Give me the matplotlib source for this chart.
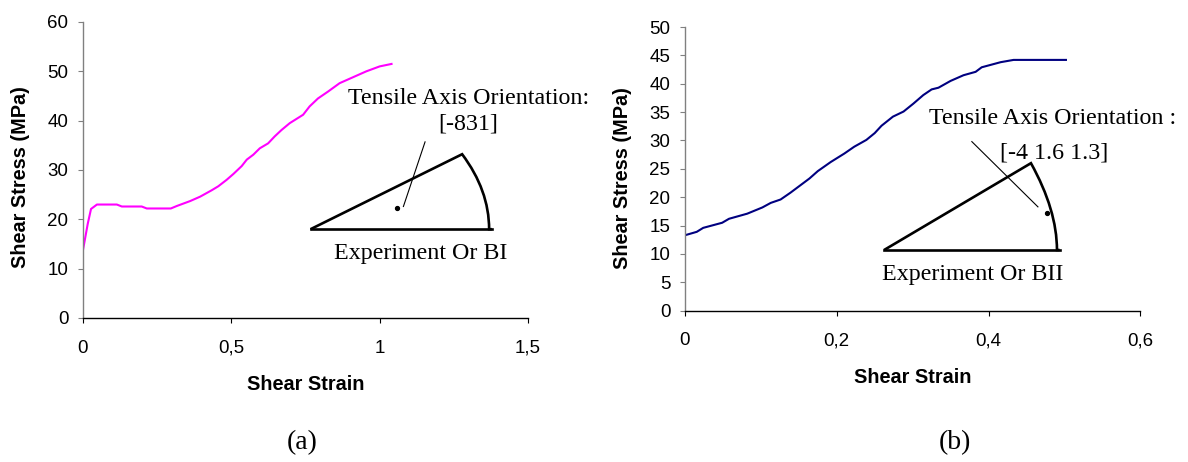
import matplotlib
matplotlib.use("Agg")
import matplotlib.pyplot as plt
from matplotlib.path import Path
from matplotlib.patches import PathPatch

SANS = "Liberation Sans"
SERIF = "Liberation Serif"

# panel (a): shear stress vs shear strain, orientation [-831]
strain_a = [0, 0.016, 0.027, 0.047, 0.114, 0.131, 0.198, 0.215, 0.296, 0.316,
            0.361, 0.395, 0.434, 0.456, 0.484, 0.507, 0.535, 0.552, 0.574, 0.596,
            0.624, 0.646, 0.669, 0.697, 0.742, 0.764, 0.792, 0.826, 0.865, 0.910,
            0.955, 1.0, 1.04]
stress_a = [13.8, 19.1, 22.1, 23.0, 23.0, 22.6, 22.6, 22.2, 22.2, 22.7,
            23.7, 24.6, 25.9, 26.7, 28.0, 29.2, 30.8, 32.1, 33.1, 34.4,
            35.4, 36.8, 38.1, 39.5, 41.2, 42.9, 44.5, 45.9, 47.6, 48.8,
            50.0, 51.0, 51.5]

# panel (b): orientation [-4 1.6 1.3]
strain_b = [0, 0.0155, 0.024, 0.049, 0.058, 0.082, 0.102, 0.113, 0.126, 0.139,
            0.150, 0.164, 0.175, 0.192, 0.210, 0.223, 0.239, 0.250, 0.259, 0.274,
            0.288, 0.301, 0.314, 0.325, 0.334, 0.350, 0.367, 0.383, 0.391, 0.416,
            0.433, 0.502]
stress_b = [13.3, 13.9, 14.6, 15.5, 16.2, 17.1, 18.2, 19.0, 19.6, 20.8,
            21.9, 23.3, 24.6, 26.2, 27.7, 28.9, 30.1, 31.3, 32.6, 34.2,
            35.1, 36.5, 38.0, 39.0, 39.3, 40.5, 41.5, 42.1, 42.9, 43.8,
            44.2, 44.2]

xticks_a = [0, 0.5, 1, 1.5]
xlabels_a = ["0", "0,5", "1", "1,5"]
yticks_a = [0, 10, 20, 30, 40, 50, 60]
xticks_b = [0, 0.2, 0.4, 0.6]
xlabels_b = ["0", "0,2", "0,4", "0,6"]
yticks_b = [0, 5, 10, 15, 20, 25, 30, 35, 40, 45, 50]

# stereographic triangle sketches (data coords of each panel)
tri_a = {"left": (0.767, 18.0), "top": (1.278, 33.2), "ctrl": (1.369, 25.9),
         "right": (1.369, 18.0), "base_end": 1.378, "dot": (1.057, 22.2),
         "lead": ((1.153, 35.7), (1.080, 22.6))}
tri_b = {"left": (0.2624, 10.7), "top": (0.4559, 26.0), "ctrl": (0.4902, 17.75),
         "right": (0.4902, 10.7), "base_end": 0.4936, "dot": (0.477, 17.3),
         "lead": ((0.378, 29.8), (0.4651, 18.3))}


def style_axes(ax, xticks, xlabels, yticks, xlim, ylim):
    ax.set_xlim(*xlim)
    ax.set_ylim(*ylim)
    ax.set_xticks(xticks, xlabels)
    ax.set_yticks(yticks)
    for s in ("top", "right"):
        ax.spines[s].set_visible(False)
    ax.spines["left"].set_color("#808080")
    ax.spines["bottom"].set_color("black")
    ax.spines["left"].set_linewidth(1.0)
    ax.spines["bottom"].set_linewidth(1.0)
    ax.tick_params(axis="x", direction="out", length=3.6, width=0.8, pad=12,
                   labelsize=13.5, colors="black")
    ax.tick_params(axis="y", direction="out", length=3.6, width=0.8, pad=7,
                   labelsize=13.5, color="#808080", labelcolor="black")
    for lab in ax.get_xticklabels() + ax.get_yticklabels():
        lab.set_fontfamily(SANS)


def draw_triangle(ax, t):
    lx, ly = t["left"]
    verts = [t["left"], t["top"], t["ctrl"], t["right"], (t["base_end"], ly)]
    codes = [Path.MOVETO, Path.LINETO, Path.CURVE3, Path.CURVE3, Path.LINETO]
    ax.add_patch(PathPatch(Path(verts, codes), fill=False, lw=1.9,
                           edgecolor="black", clip_on=False, joinstyle="miter"))
    ax.plot([lx, t["base_end"]], [ly, ly], color="black", lw=1.9, clip_on=False)
    ax.plot(*t["dot"], "o", color="black", ms=2.8, clip_on=False)
    (x0, y0), (x1, y1) = t["lead"]
    ax.plot([x0, x1], [y0, y1], color="black", lw=0.8, clip_on=False)


fig = plt.figure(figsize=(11.88, 4.62), dpi=100)
ax_a = fig.add_axes([83 / 1188, 1 - 318 / 462, 445 / 1188, 296 / 462])
ax_b = fig.add_axes([685 / 1188, 1 - 310.7 / 462, 455.3 / 1188, 283.7 / 462])

ax_a.plot(strain_a, stress_a, color="#FF00FF", lw=1.5)
style_axes(ax_a, xticks_a, xlabels_a, yticks_a, (0, 1.5), (0, 60))
ax_b.plot(strain_b, stress_b, color="#000080", lw=1.5)
style_axes(ax_b, xticks_b, xlabels_b, yticks_b, (0, 0.6), (0, 50))

for ax, ylab_y, xlab_y, ylab_x in [(ax_a, 0.475, -0.226, -62 / 445),
                                    (ax_b, 0.469, -0.234, -62 / 455.3)]:
    ax.set_xlabel("Shear Strain", fontfamily=SANS, fontweight="bold",
                  fontsize=14.3, va="center")
    ax.set_ylabel("Shear Stress (MPa)", fontfamily=SANS, fontweight="bold",
                  fontsize=14.3, va="center")
    ax.xaxis.set_label_coords(0.5, xlab_y)
    ax.yaxis.set_label_coords(ylab_x, ylab_y)

draw_triangle(ax_a, tri_a)
draw_triangle(ax_b, tri_b)

txt = dict(fontfamily=SERIF, fontsize=17.3, ha="center", va="center", clip_on=False)
ax_a.text(1.301, 44.4, "Tensile Axis Orientation:", **txt)
ax_a.text(1.297, 39.3, "[-831]", **txt)
ax_a.text(1.139, 13.0, "Experiment Or BI", **txt)
ax_b.text(0.4847, 33.8, "Tensile Axis Orientation :", **txt)
ax_b.text(0.4866, 27.8, "[-4 1.6 1.3]", **txt)
ax_b.text(0.3785, 6.3, "Experiment Or BII", **txt)

fig.text(302.5 / 1188, 1 - 443 / 462, "(a)", fontfamily=SERIF, fontsize=20,
         ha="center", va="center")
fig.text(954.7 / 1188, 1 - 443 / 462, "(b)", fontfamily=SERIF, fontsize=20,
         ha="center", va="center")

fig.savefig("out.png", dpi=100)
